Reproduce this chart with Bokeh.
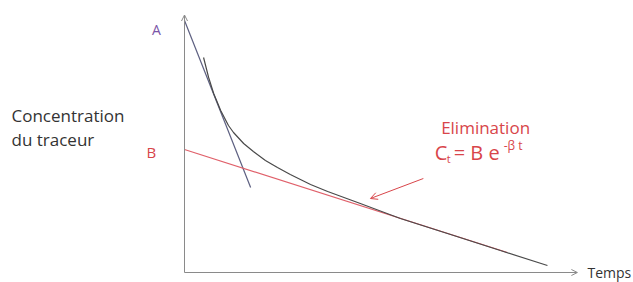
from bokeh.plotting import figure
from bokeh.models import Range1d, Arrow, OpenHead
from bokeh.core.properties import value
from bokeh.embed import file_html
from bokeh.resources import INLINE

# ---- data (abstract units: time t, concentration C) ----
curve_t = [0.49, 0.62, 0.75, 0.93, 1.13, 1.26, 1.52, 1.77, 2.08, 2.39, 2.72, 2.98, 3.24,
           3.68, 4.52, 5.55, 6.84, 8.12, 9.33]
curve_c = [8.60, 7.80, 7.16, 6.48, 5.88, 5.60, 5.16, 4.84, 4.48, 4.20, 3.92, 3.72, 3.52,
           3.24, 2.76, 2.16, 1.52, 0.88, 0.28]

elim_t = [0.0, 8.30]          # red tangent (elimination phase)
elim_c = [4.92, 0.80]

dist_t = [0.0, 1.70]          # steep tangent (distribution phase)
dist_c = [10.08, 3.40]

axis_t_max = 10.1
axis_c_max = 10.3

arrow_from = (6.14, 3.76)
arrow_to = (4.78, 2.96)

FONT = value("Open Sans")
RED = "#d8454a"
AXIS = "#8a8a8a"

p = figure(width=633, height=282, output_backend="svg", toolbar_location=None,
           x_range=Range1d(-4.730, 11.542), y_range=Range1d(-0.40, 10.88),
           min_border=0, min_border_left=0, min_border_right=0,
           min_border_top=0, min_border_bottom=0)
p.axis.visible = False
p.grid.visible = False
p.outline_line_color = None
p.background_fill_color = "white"

# axes with arrows
p.add_layout(Arrow(end=OpenHead(size=6, line_color=AXIS, line_width=1),
                   x_start=0, y_start=0, x_end=0, y_end=axis_c_max,
                   line_color=AXIS, line_width=1))
p.add_layout(Arrow(end=OpenHead(size=6, line_color=AXIS, line_width=1),
                   x_start=0, y_start=0, x_end=axis_t_max, y_end=0,
                   line_color=AXIS, line_width=1))

# lines
p.line(dist_t, dist_c, line_color="#5c5f80", line_width=1.2)
p.line(elim_t, elim_c, line_color="#e0606a", line_width=1.2)
p.line(curve_t, curve_c, line_color="#4a4a4a", line_width=1.2)

# pointer arrow
p.add_layout(Arrow(end=OpenHead(size=7, line_color=RED, line_width=1),
                   x_start=arrow_from[0], y_start=arrow_from[1],
                   x_end=arrow_to[0], y_end=arrow_to[1],
                   line_color=RED, line_width=1))

# labels
p.text(x=[-4.447, -4.447], y=[6.28, 5.32], text=["Concentration", "du traceur"],
       text_font=FONT, text_font_size="17px", text_color="#333333",
       text_baseline="middle", text_align="left")
p.text(x=[-0.72], y=[9.72], text=["A"], text_font=FONT, text_font_size="14px",
       text_color="#7b55a8", text_baseline="middle", text_align="center")
p.text(x=[-0.85], y=[4.84], text=["B"], text_font=FONT, text_font_size="15px",
       text_color=RED, text_baseline="middle", text_align="center")
p.text(x=[7.74], y=[5.80], text=["Elimination"], text_font=FONT, text_font_size="17px",
       text_color=RED, text_baseline="middle", text_align="center")
p.text(x=[10.36], y=[0.0], text=["Temps"], text_font=FONT, text_font_size="14px",
       text_color="#333333", text_baseline="middle", text_align="left")

# formula  C_t = B e^{-β t}
fx = 6.43
fy = 4.80
p.text(x=[fx], y=[fy], text=["C"], text_font=FONT, text_font_size="20px",
       text_color=RED, text_baseline="middle", text_align="left")
p.text(x=[fx], y=[fy], text=["t"], text_font=FONT, text_font_size="11px",
       text_color=RED, text_baseline="middle", text_align="left", x_offset=12, y_offset=6)
p.text(x=[fx], y=[fy], text=["= B e"], text_font=FONT, text_font_size="20px",
       text_color=RED, text_baseline="middle", text_align="left", x_offset=19)
p.text(x=[fx], y=[fy], text=["-β t"], text_font=FONT, text_font_size="12px",
       text_color=RED, text_baseline="middle", text_align="left", x_offset=69, y_offset=-7)

open("out.html", "w").write(file_html(p, INLINE))
